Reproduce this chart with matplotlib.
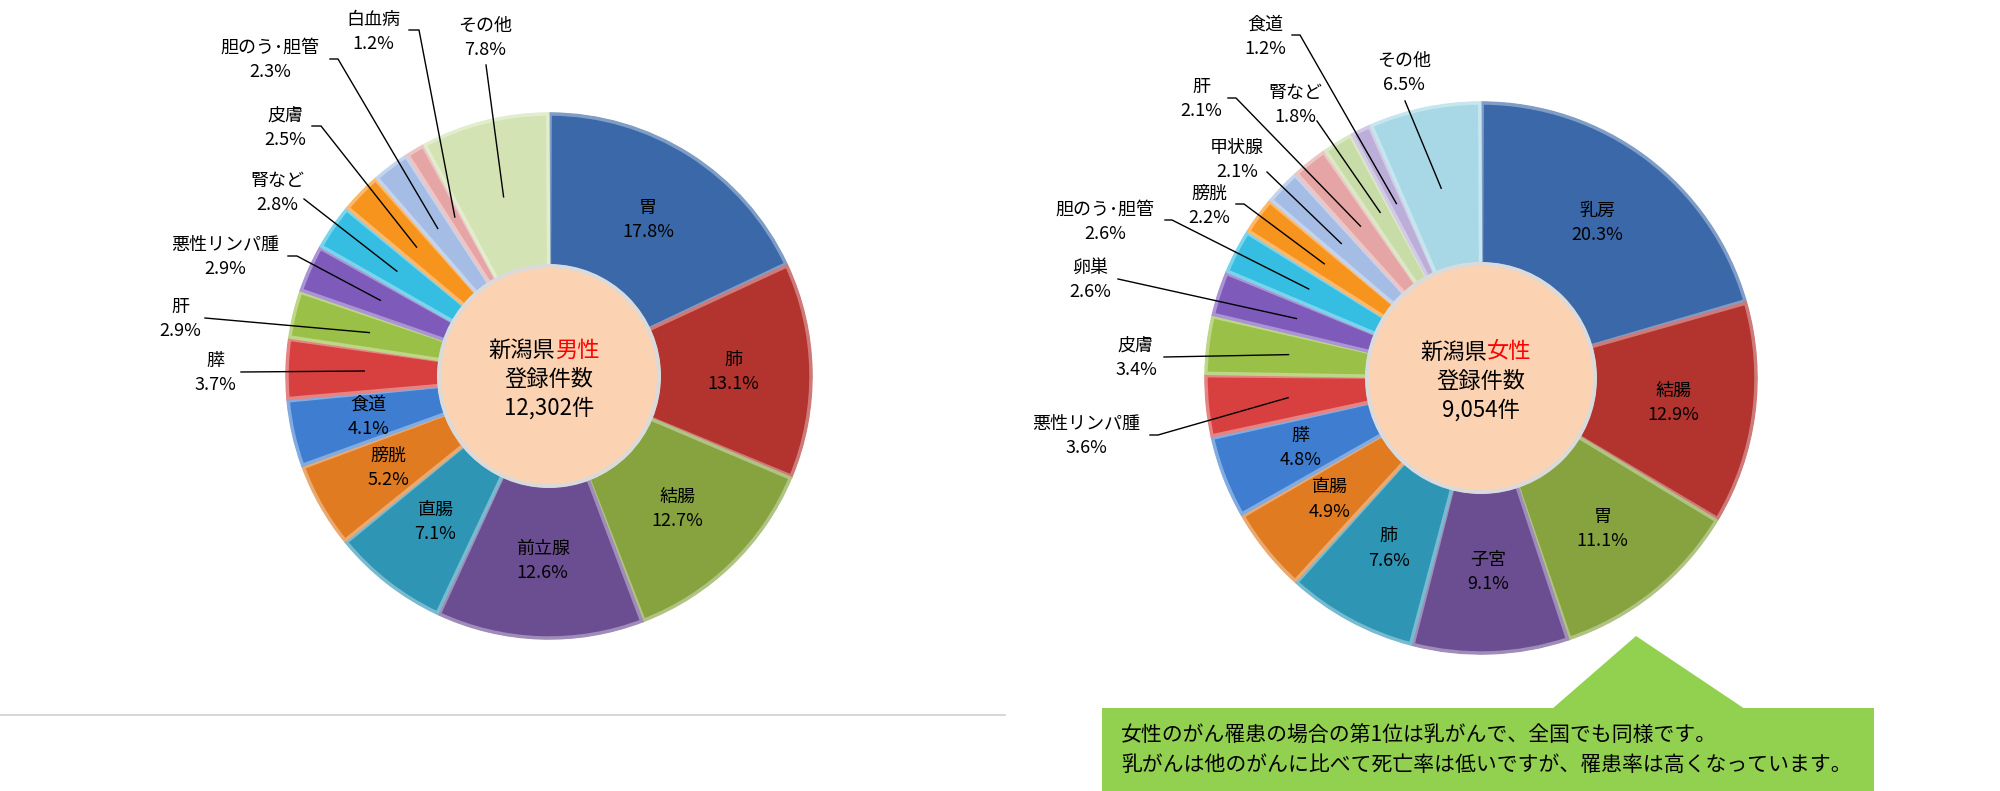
import numpy as np
import matplotlib
matplotlib.use("Agg")
import matplotlib.pyplot as plt
import matplotlib.colors as mcolors
from matplotlib.patches import Polygon, Rectangle, Wedge, Circle

plt.rcParams['font.family'] = ['Noto Sans CJK JP', 'DejaVu Sans']

# ---------------- data ----------------
male_labels = ["胃", "肺", "結腸", "前立腺", "直腸", "膀胱", "食道", "膵", "肝",
               "悪性リンパ腫", "腎など", "皮膚", "胆のう･胆管", "白血病", "その他"]
male_values = [17.8, 13.1, 12.7, 12.6, 7.1, 5.2, 4.1, 3.7, 2.9, 2.9, 2.8, 2.5, 2.3, 1.2, 7.8]
male_total = "12,302件"

female_labels = ["乳房", "結腸", "胃", "子宮", "肺", "直腸", "膵", "悪性リンパ腫", "皮膚",
                 "卵巣", "胆のう･胆管", "膀胱", "甲状腺", "肝", "腎など", "食道", "その他"]
female_values = [20.3, 12.9, 11.1, 9.1, 7.6, 4.9, 4.8, 3.6, 3.4, 2.6, 2.6, 2.2, 2.1, 2.1, 1.8, 1.2, 6.5]
female_total = "9,054件"

note_lines = ["女性のがん罹患の場合の第1位は乳がんで、全国でも同様です。",
              "乳がんは他のがんに比べて死亡率は低いですが、罹患率は高くなっています。"]

# ---------------- styles ----------------
male_colors = ["#3A68A8", "#B3332F", "#86A33F", "#6B4E92", "#2F95B5", "#E07B22",
               "#3E7DD0", "#D84040", "#9AC048", "#7E5BBB", "#35BDE2", "#F7941E",
               "#A5BDE5", "#E5A5A5", "#D3E3B4"]
female_colors = ["#3A68A8", "#B3332F", "#86A33F", "#6B4E92", "#2F95B5", "#E07B22",
                 "#3E7DD0", "#D84040", "#9AC048", "#7E5BBB", "#35BDE2", "#F7941E",
                 "#A5BDE5", "#E5A5A5", "#C8DCA8", "#BBAED8", "#A8D8E6"]

W, H = 2000, 791
fig = plt.figure(figsize=(W / 100, H / 100), dpi=100)
ax = fig.add_axes([0, 0, 1, 1])


def Y(y):
    return H - y


def lighten(c, f):
    r, g, b = mcolors.to_rgb(c)
    return (r + (1 - r) * f, g + (1 - g) * f, b + (1 - b) * f)


def draw_pie(cx, cy, R, hole, values, labels, colors, inner_n, outer_pos, title_word, total):
    wedges, _ = ax.pie(values, colors=colors, startangle=90, counterclock=False,
                       center=(cx, Y(cy)), radius=R, frame=True,
                       wedgeprops=dict(width=R - hole, edgecolor="white", linewidth=1.2))
    # bevel effect: lighter rim outlines
    for w, c in zip(wedges, colors):
        t1, t2 = w.theta1, w.theta2
        ax.add_patch(Wedge((cx, Y(cy)), R - 2, t1 + 0.25, t2 - 0.25, width=R - hole - 4,
                           facecolor="none", edgecolor=lighten(c, 0.35), linewidth=2.5, zorder=3))
        ax.add_patch(Wedge((cx, Y(cy)), R - 10, t1 + 1.2, t2 - 1.2, width=R - hole - 20,
                           facecolor=c, edgecolor="none", zorder=3))
    # hole
    ax.add_patch(Circle((cx, Y(cy)), hole + 4, facecolor="#DADADA", edgecolor="none", zorder=4))
    ax.add_patch(Circle((cx, Y(cy)), hole, facecolor="#FBD3B3", edgecolor="none", zorder=5))

    mids = [np.deg2rad((w.theta1 + w.theta2) / 2) for w in wedges]
    for i, (lab, v) in enumerate(zip(labels, values)):
        a = mids[i]
        px = cx + 0.70 * R * np.cos(a)
        py = Y(cy) + 0.70 * R * np.sin(a)
        pct = f"{v:.1f}%"
        if i < inner_n:
            ax.text(px, py, f"{lab}\n{pct}", ha="center", va="center", fontsize=13,
                    linespacing=1.45, zorder=6, color="black")
        else:
            tx, ty, lx, ly, hook = outer_pos[lab]
            ax.text(tx, Y(ty), f"{lab}\n{pct}", ha="center", va="center", fontsize=13,
                    linespacing=1.45, zorder=6, color="black")
            xs = [lx]
            ys = [Y(ly)]
            if hook is not None:
                xs.append(hook)
                ys.append(Y(ly))
            xs.append(px)
            ys.append(py)
            ax.plot(xs, ys, color="black", lw=1.0, zorder=6)

    # centre text
    ax.text(cx + 6, Y(cy) + 26, "新潟県", ha="right", va="center", fontsize=16, zorder=7)
    ax.text(cx + 6, Y(cy) + 26, title_word, ha="left", va="center", fontsize=16,
            color="#FF0000", zorder=7)
    ax.text(cx, Y(cy) - 3, "登録件数", ha="center", va="center", fontsize=16, zorder=7)
    ax.text(cx, Y(cy) - 32, total, ha="center", va="center", fontsize=16, zorder=7)


# outer label positions: label centre (x, y), line start (x, y), optional horizontal hook end x
male_outer = {
    "膵": (215, 373, 241, 372, None),
    "肝": (180, 319, 205, 318, None),
    "悪性リンパ腫": (225, 257, 288, 256, 297),
    "腎など": (277, 193, 304, 199, None),
    "皮膚": (285, 128, 312, 126, 321),
    "胆のう･胆管": (270, 60, 330, 59, 338),
    "白血病": (373, 32, 409, 30, 419),
    "その他": (485, 38, 486, 65, None),
}
female_outer = {
    "悪性リンパ腫": (1086, 436, 1150, 435, 1158),
    "皮膚": (1136, 358, 1164, 357, None),
    "卵巣": (1090, 280, 1118, 279, None),
    "胆のう･胆管": (1105, 222, 1165, 220, 1172),
    "膀胱": (1209, 206, 1236, 204, 1244),
    "甲状腺": (1237, 160, 1267, 172, None),
    "肝": (1201, 99, 1228, 98, 1236),
    "腎など": (1295, 105, 1317, 121, None),
    "食道": (1265, 37, 1292, 35, 1300),
    "その他": (1404, 73, 1405, 101, None),
}

draw_pie(549, 376, 264, 108, male_values, male_labels, male_colors, 7, male_outer,
         "男性", male_total)
draw_pie(1481, 378, 277, 112, female_values, female_labels, female_colors, 7, female_outer,
         "女性", female_total)

# separator line
ax.plot([0, 1005], [Y(715), Y(715)], color="#D0D0D0", lw=1.2)

# callout
ax.add_patch(Polygon([(1552, Y(709)), (1636, Y(636)), (1745, Y(709))], closed=True,
                     facecolor="#92D050", edgecolor="none", zorder=2))
ax.add_patch(Rectangle((1102, 0), 772, Y(708), facecolor="#92D050", edgecolor="none", zorder=2))
ax.text(1121, Y(736), note_lines[0], ha="left", va="center", fontsize=15, zorder=3)
ax.text(1121, Y(765), note_lines[1], ha="left", va="center", fontsize=15, zorder=3)

ax.set_xlim(0, W)
ax.set_ylim(0, H)
ax.set_aspect("auto")
ax.axis("off")
fig.savefig("out.png", dpi=100, facecolor="white")
